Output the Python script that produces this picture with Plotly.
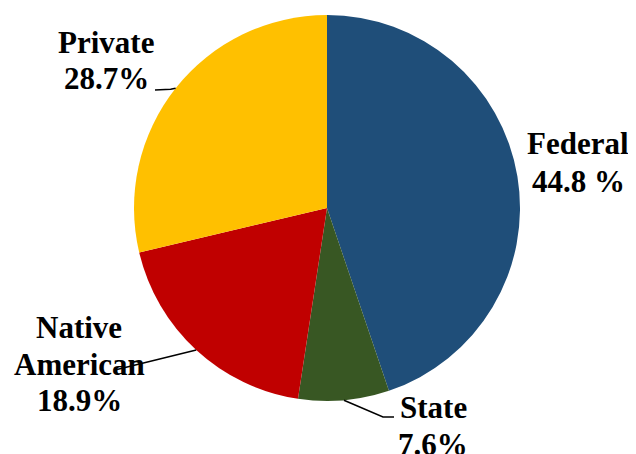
import math
import plotly.graph_objects as go

categories = ["Federal", "State", "Native American", "Private"]
values = [44.8, 7.6, 18.9, 28.7]
value_labels = ["44.8 %", "7.6%", "18.9%", "28.7%"]
colors = ["#1F4E79", "#385723", "#C00000", "#FFC000"]

OFF = 8  # page body margin
W, H = 636 - OFF, 454 - OFF
CX, CY, R = 327, 208, 193  # pie centre/radius in window pixels

def px(x):
    return (x - OFF) / W

def py(y):
    return 1 - (y - OFF) / H

fig = go.Figure(go.Pie(
    labels=categories,
    values=values,
    sort=False,
    direction="clockwise",
    rotation=0,
    marker=dict(colors=colors, line=dict(width=0)),
    textinfo="none",
    hoverinfo="label+percent",
    domain=dict(x=[px(CX - R), px(CX + R)], y=[py(CY + R), py(CY - R)]),
    showlegend=False,
))

total = sum(values)
edge = {}
cum = 0
for c, v in zip(categories, values):
    mid = (cum + v / 2) / total * 2 * math.pi
    edge[c] = (CX + R * math.sin(mid), CY - R * math.cos(mid))
    cum += v

font = dict(family="Liberation Serif, Times New Roman, serif", size=31, color="black")

label_pos = {
    "Federal": (578, [154, 192]),
    "State": (433, [418, 455]),
    "Native American": (79, [338, 375, 411]),
    "Private": (106, [53, 89]),
}
name_lines = {
    "Federal": ["Federal"],
    "State": ["State"],
    "Native American": ["Native", "American"],
    "Private": ["Private"],
}

for c, lab in zip(categories, value_labels):
    x, bases = label_pos[c]
    lines = name_lines[c] + [lab]
    for t, b in zip(lines, bases):
        fig.add_annotation(
            x=px(x), y=py(b - 11), xref="paper", yref="paper",
            text="<b>%s</b>" % t, showarrow=False, font=font,
            xanchor="center", yanchor="middle",
        )

line_style = dict(color="black", width=1.5)
ex, ey = edge["Private"]
fig.add_shape(type="path", xref="paper", yref="paper",
              path="M %f %f L %f %f L %f %f" % (px(155), py(90), px(ex - 5), py(ey + 1), px(ex), py(ey)),
              line=line_style)
ex, ey = edge["Native American"]
fig.add_shape(type="line", xref="paper", yref="paper",
              x0=px(115), y0=py(370), x1=px(ex), y1=py(ey), line=line_style)
ex, ey = edge["State"]
fig.add_shape(type="path", xref="paper", yref="paper",
              path="M %f %f L %f %f L %f %f" % (px(ex), py(ey), px(383), py(417), px(394), py(417)),
              line=line_style)

fig.update_layout(
    width=W, height=H,
    margin=dict(l=0, r=0, t=0, b=0),
    paper_bgcolor="white",
    plot_bgcolor="white",
)

fig.write_html("out.html")
